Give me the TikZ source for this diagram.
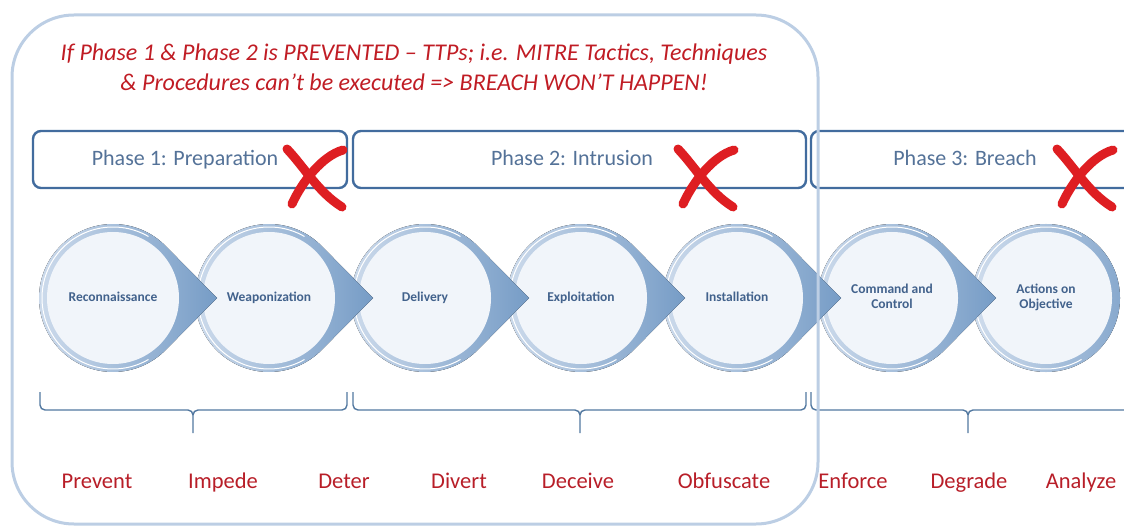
\documentclass[tikz,border=0pt]{standalone}
\usepackage{fontspec}
\setmainfont{Carlito}
\definecolor{bigline}{RGB}{188,206,228}
\definecolor{phaseline}{RGB}{66,108,158}
\definecolor{phasetext}{RGB}{84,114,152}
\definecolor{titlered}{RGB}{192,28,36}
\definecolor{labelred}{RGB}{184,30,40}
\definecolor{xred}{RGB}{222,30,34}
\definecolor{ringlight}{RGB}{208,221,237}
\definecolor{ringdark}{RGB}{118,156,198}
\definecolor{innerfill}{RGB}{241,245,250}
\definecolor{circtext}{RGB}{66,98,140}
\definecolor{braceline}{RGB}{82,120,160}
\newcommand\kcbrace[3]{%
  \draw[bracepath] (#1,-392) -- (#1,-405) to[out=-90,in=180] (#1+5,-410) -- (#2-5,-410) to[out=0,in=90] (#2,-415) -- (#2,-433);
  \draw[bracepath] (#2,-415) to[out=90,in=180] (#2+5,-410) -- (#3-5,-410) to[out=0,in=-90] (#3,-405) -- (#3,-392);}
\begin{document}
\begin{tikzpicture}[x=1pt,y=1pt,
  phasebox/.style={draw=phaseline, line width=2.4pt, rounded corners=8pt, fill=white},
  phaselabel/.style={text=phasetext, anchor=base, font=\fontsize{22}{24}\selectfont},
  steplabel/.style={text=circtext, text height=10pt, text depth=3pt, font=\bfseries\fontsize{13.5}{15}\selectfont, align=center},
  actlabel/.style={text=labelred, anchor=base, font=\fontsize{22.5}{26}\selectfont},
  xstroke/.style={draw=xred, line width=9pt, line cap=round},
  bracepath/.style={draw=braceline, line width=1.4pt},
  bigbox/.style={draw=bigline, line width=3pt, rounded corners=62pt}
]
\useasboundingbox (0,0) rectangle (1124,-529);
\begin{scope}
\clip (0,0) rectangle (1124,-529);
% title
\node[align=center, text=titlered, font=\itshape\fontsize{24}{30}\selectfont] (title) at (414,-67)
  {If Phase 1 \& Phase 2 is PREVENTED – TTPs; i.e. MITRE Tactics, Techniques\\\& Procedures can’t be executed => BREACH WON’T HAPPEN!};
% phase boxes
\draw[phasebox] (33,-131) rectangle (347,-188);
\draw[phasebox] (353,-131) rectangle (806,-188);
\draw[phasebox] (811,-131) rectangle (1145,-188);
\node[phaselabel] (p1) at (185,-166) {Phase 1: Preparation};
\node[phaselabel] (p2) at (572,-166) {Phase 2: Intrusion};
\node[phaselabel] (p3) at (965,-166) {Phase 3: Breach};
% red crosses
\foreach \dx in {0,391,770}{
  \begin{scope}[xshift=\dx]
  \draw[xstroke] (287,-149) .. controls (305,-168) and (318,-192) .. (342,-207);
  \draw[xstroke] (343,-150) .. controls (322,-156) and (302,-182) .. (292,-204);
  \end{scope}}
% last circle (no visible tip)
\fill[left color=ringlight, right color=ringdark!80!ringlight] (1046,-298) circle[radius=74];
\fill[innerfill] (1046,-298) circle[radius=66];
\draw[white, line width=1pt] (1046,-298) ++(60:71) arc[start angle=60,end angle=300,radius=71];
\node[steplabel] (s7) at (1046,-305) {Actions on\\Objective};
% circles with tips (right to left so tips lie on top)
\foreach \i/\cx/\ty/\txt in {6/892/-305/{Command and\\Control},5/737/-298/Installation,4/581/-298/Exploitation,3/425/-298/Delivery,2/269/-298/Weaponization,1/113/-298/Reconnaissance}{
  \fill[left color=ringlight, right color=ringdark] (\cx,-298) ++(44.6:74) arc[start angle=44.6,end angle=315.4,radius=74] -- (\cx+104,-298) -- cycle;
  \fill[innerfill] (\cx,-298) circle[radius=66];
  \draw[white, line width=1pt] (\cx,-298) ++(60:71) arc[start angle=60,end angle=300,radius=71];
  \node[steplabel] (s\i) at (\cx,\ty) {\txt};
}
% braces
\kcbrace{40}{193}{347}
\kcbrace{353}{580}{806}
\kcbrace{811}{968}{1140}
% actions
\node[actlabel] (a1) at (97,-488) {Prevent};
\node[actlabel] (a2) at (223,-488) {Impede};
\node[actlabel] (a3) at (344,-488) {Deter};
\node[actlabel] (a4) at (459,-488) {Divert};
\node[actlabel] (a5) at (578,-488) {Deceive};
\node[actlabel] (a6) at (724,-488) {Obfuscate};
\node[actlabel] (a7) at (853,-488) {Enforce};
\node[actlabel] (a8) at (969,-488) {Degrade};
\node[actlabel] (a9) at (1081,-488) {Analyze};
% big rounded frame
\draw[bigbox] (12,-15) rectangle (818,-524);
\end{scope}
\end{tikzpicture}
\end{document}
